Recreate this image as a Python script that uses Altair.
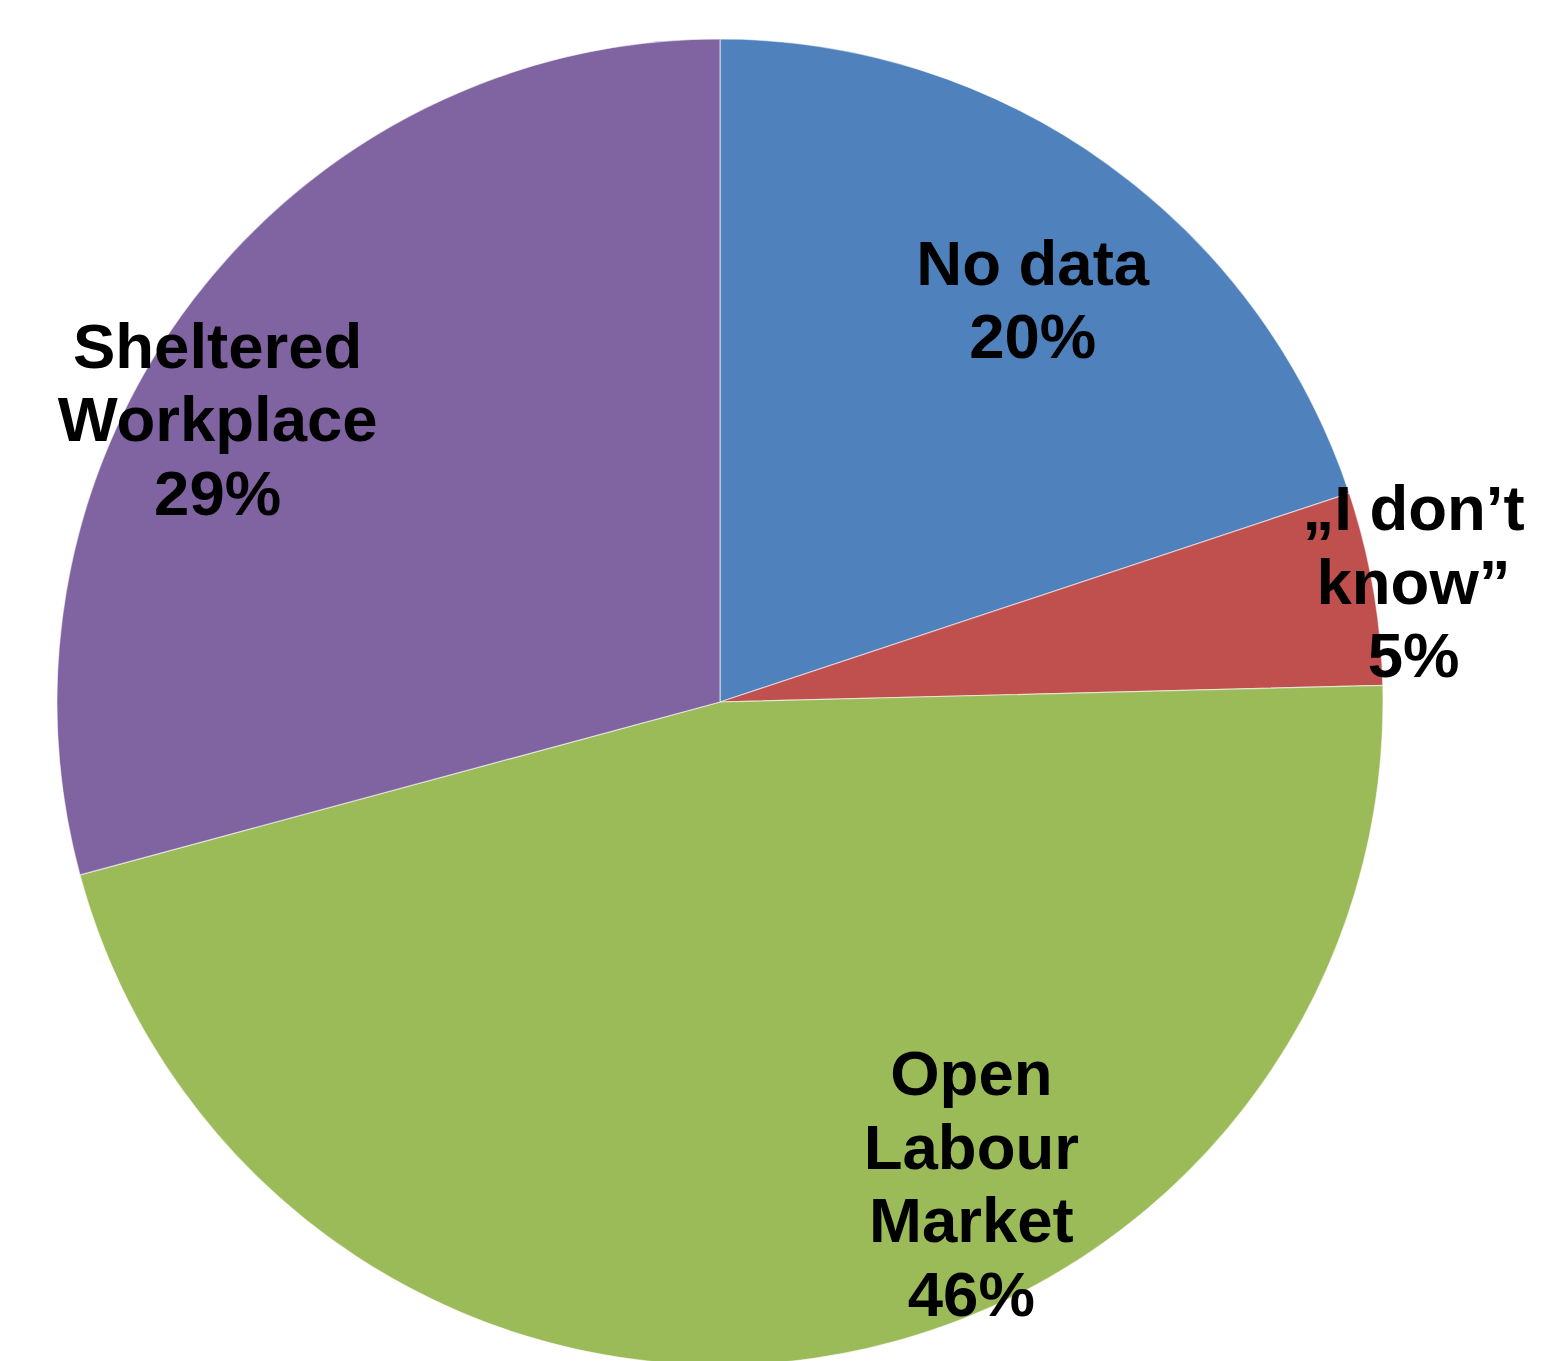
import altair as alt
import pandas as pd

categories = ["No data", "„I don’t know”", "Open Labour Market", "Sheltered Workplace"]
values = [19.9, 4.7, 46.2, 29.2]
label_lines = ["No data", "„I don’t\nknow”", "Open\nLabour\nMarket", "Sheltered\nWorkplace"]
colors = ["#4F81BD", "#C0504D", "#9BBB59", "#8064A2"]

df = pd.DataFrame({
    "category": categories,
    "value": values,
    "idx": list(range(len(categories))),
    "label": [f"{l}\n{round(v):.0f}%" for l, v in zip(label_lines, values)],
})

CX, CY = 712, 694
R = 663

theta_scale = alt.Scale(domain=[0, sum(values)])

base = alt.Chart(df).transform_stack(
    stack="value", groupby=[], as_=["v0", "v1"], sort=[alt.SortField("idx", order="ascending")]
).transform_calculate(mid="(datum.v0 + datum.v1) / 2")

arcs = base.mark_arc(outerRadius=R, stroke="#ffffff", strokeWidth=1.2, strokeOpacity=0.55).encode(
    theta=alt.Theta("v0:Q", scale=theta_scale),
    theta2="v1:Q",
    color=alt.Color("category:N", scale=alt.Scale(domain=categories, range=colors), legend=None),
    x=alt.value(CX),
    y=alt.value(CY),
)

# label placement: (radius, dx, dy) per category
placement = {
    "No data": (507, 16, -25),
    "„I don’t know”": (703, 1, -70),
    "Open Labour Market": (544, 173, -164),
    "Sheltered Workplace": (576, -45, -3),
}

layers = [arcs]
for cat in categories:
    r, dx, dy = placement[cat]
    t = base.transform_filter(alt.datum.category == cat).mark_text(
        radius=r, dx=dx, dy=dy, font="Liberation Sans", fontWeight="bold", fontSize=63.5,
        lineHeight=73.5, lineBreak="\n", align="center", baseline="middle", color="#000000",
    ).encode(
        theta=alt.Theta("mid:Q", scale=theta_scale),
        text="label:N",
        x=alt.value(CX),
        y=alt.value(CY),
    )
    layers.append(t)

chart = alt.layer(*layers).properties(
    width=1540, height=1353, padding=0, autosize="none", background="#ffffff"
).configure_view(stroke=None)

chart.save("out.html", embed_options={"renderer": "svg", "actions": False})
